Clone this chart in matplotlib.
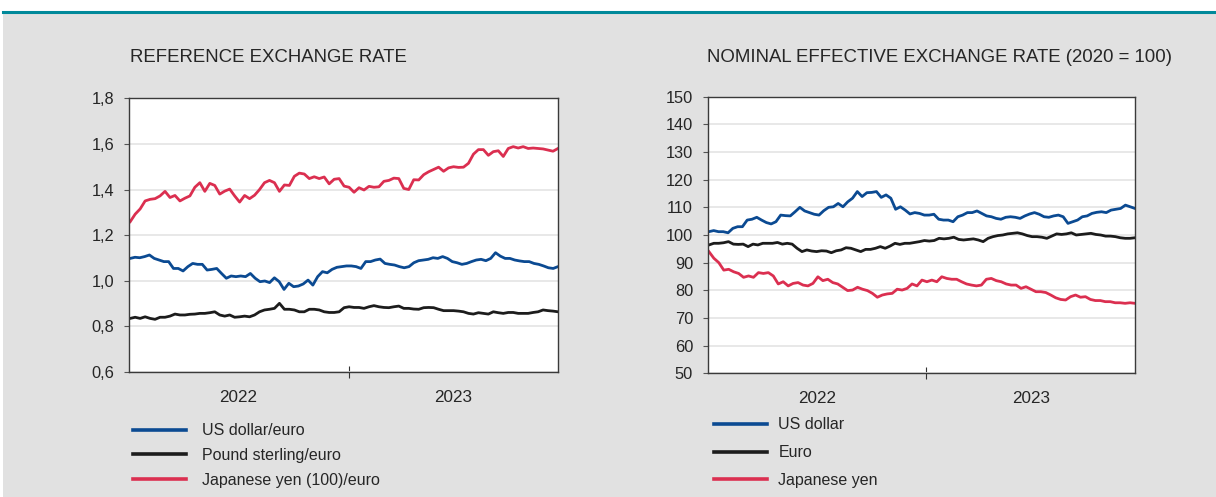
# exchange_rates.py
#
# Two panels: reference exchange rates against the euro and
# nominal effective exchange rates (2020 = 100), 2022-2023.

import numpy as np
import pandas as pd
import matplotlib
matplotlib.use("Agg")
import matplotlib.pyplot as plt
from matplotlib.lines import Line2D
from matplotlib.patches import Rectangle
from matplotlib.ticker import FuncFormatter

plt.rcParams['font.family'] = ['Liberation Sans', 'DejaVu Sans']

#--- DATA -----------------------------------------------------------------#
start_date = "2022-01-03"
end_date = "2023-12-15"

# Left panel: reference exchange rates
usd_per_eur = [1.098, 1.103, 1.101, 1.106, 1.113, 1.098, 1.091, 1.084, 1.084, 1.054,
               1.054, 1.043, 1.062, 1.076, 1.072, 1.072, 1.047, 1.050, 1.054, 1.032,
               1.011, 1.021, 1.018, 1.021, 1.018, 1.032, 1.011, 0.996, 0.999, 0.992,
               1.013, 0.996, 0.962, 0.989, 0.974, 0.977, 0.986, 1.003, 0.981, 1.018,
               1.040, 1.035, 1.050, 1.059, 1.062, 1.065, 1.065, 1.062, 1.054, 1.084,
               1.084, 1.091, 1.095, 1.076, 1.072, 1.069, 1.062, 1.057, 1.062, 1.079,
               1.088, 1.091, 1.094, 1.101, 1.098, 1.106, 1.098, 1.084, 1.079, 1.072,
               1.076, 1.084, 1.091, 1.094, 1.088, 1.098, 1.123, 1.108, 1.098, 1.098,
               1.091, 1.087, 1.084, 1.084, 1.076, 1.072, 1.065, 1.057, 1.054, 1.062]
gbp_per_eur = [0.835, 0.840, 0.835, 0.842, 0.835, 0.831, 0.840, 0.840, 0.845, 0.854,
               0.850, 0.850, 0.853, 0.854, 0.857, 0.857, 0.860, 0.864, 0.850, 0.845,
               0.850, 0.840, 0.842, 0.845, 0.842, 0.850, 0.864, 0.872, 0.875, 0.879,
               0.901, 0.875, 0.875, 0.872, 0.864, 0.864, 0.875, 0.875, 0.872, 0.864,
               0.861, 0.861, 0.864, 0.882, 0.886, 0.883, 0.883, 0.879, 0.886, 0.891,
               0.886, 0.883, 0.882, 0.886, 0.889, 0.879, 0.879, 0.876, 0.875, 0.882,
               0.883, 0.882, 0.875, 0.869, 0.869, 0.869, 0.867, 0.864, 0.857, 0.854,
               0.860, 0.857, 0.854, 0.864, 0.860, 0.857, 0.861, 0.861, 0.857, 0.857,
               0.857, 0.861, 0.864, 0.872, 0.869, 0.867, 0.864]
jpy100_per_eur = [1.259, 1.292, 1.315, 1.350, 1.357, 1.360, 1.372, 1.392, 1.365, 1.374,
                  1.350, 1.362, 1.372, 1.410, 1.430, 1.392, 1.427, 1.418, 1.380, 1.393,
                  1.402, 1.372, 1.345, 1.374, 1.360, 1.375, 1.400, 1.430, 1.440, 1.430,
                  1.392, 1.420, 1.418, 1.458, 1.472, 1.468, 1.448, 1.456, 1.448, 1.455,
                  1.425, 1.445, 1.448, 1.415, 1.410, 1.388, 1.408, 1.398, 1.414, 1.410,
                  1.412, 1.436, 1.440, 1.450, 1.448, 1.405, 1.400, 1.443, 1.442, 1.465,
                  1.478, 1.488, 1.498, 1.480, 1.495, 1.500, 1.497, 1.498, 1.515, 1.555,
                  1.575, 1.575, 1.550, 1.566, 1.570, 1.545, 1.580, 1.588, 1.582, 1.588,
                  1.580, 1.582, 1.580, 1.578, 1.573, 1.568, 1.580]

# Right panel: nominal effective exchange rates (2020 = 100)
neer_usd = [101.2, 101.6, 101.2, 101.2, 100.8, 102.4, 103.0, 103.0, 105.4, 105.7,
            106.4, 105.4, 104.5, 104.0, 104.8, 107.2, 107.0, 106.9, 108.4, 110.0,
            108.7, 108.1, 107.5, 107.2, 108.8, 110.0, 110.2, 111.4, 110.2, 112.0,
            113.3, 115.7, 113.9, 115.3, 115.4, 115.7, 113.6, 114.5, 113.3, 109.3,
            110.2, 109.0, 107.6, 108.1, 107.8, 107.2, 107.2, 107.5, 105.7, 105.4,
            105.4, 104.8, 106.6, 107.2, 108.1, 108.1, 108.7, 107.8, 106.9, 106.6,
            106.0, 105.7, 106.4, 106.6, 106.4, 106.0, 106.9, 107.6, 108.1, 107.5,
            106.6, 106.4, 106.9, 107.2, 106.6, 104.2, 104.8, 105.4, 106.6, 106.9,
            107.8, 108.2, 108.4, 108.1, 109.0, 109.3, 109.6, 110.8, 110.2, 109.6]
neer_eur = [96.4, 97.0, 97.0, 97.2, 97.6, 96.7, 96.6, 96.7, 95.8, 96.7,
            96.4, 97.0, 97.0, 97.0, 97.3, 96.7, 97.0, 96.7, 95.2, 94.0,
            94.6, 94.2, 94.0, 94.3, 94.2, 93.6, 94.3, 94.6, 95.4, 95.2,
            94.6, 94.0, 94.8, 94.8, 95.2, 95.8, 95.2, 96.0, 97.0, 96.6,
            97.0, 97.0, 97.3, 97.6, 98.0, 97.8, 98.0, 98.8, 98.6, 98.8,
            99.2, 98.4, 98.2, 98.4, 98.6, 98.2, 97.6, 98.8, 99.4, 99.8,
            100.0, 100.4, 100.6, 100.8, 100.4, 99.8, 99.4, 99.4, 99.2, 98.8,
            99.6, 100.4, 100.2, 100.4, 100.8, 100.0, 100.2, 100.4, 100.6, 100.2,
            100.0, 99.6, 99.6, 99.4, 99.0, 98.8, 98.8, 99.0]
neer_jpy = [94.0, 91.6, 90.0, 87.3, 87.6, 86.7, 86.1, 84.7, 85.2, 84.7,
            86.4, 86.1, 86.4, 85.2, 82.3, 83.1, 81.6, 82.5, 82.8, 81.9,
            81.6, 82.5, 84.9, 83.5, 84.0, 82.8, 82.3, 81.1, 79.9, 80.1,
            81.1, 80.4, 79.9, 78.9, 77.5, 78.3, 78.7, 78.9, 80.4, 80.1,
            80.7, 82.3, 81.6, 83.7, 83.1, 83.7, 83.1, 84.9, 84.3, 84.0,
            84.0, 83.1, 82.3, 81.9, 81.6, 81.9, 84.0, 84.3, 83.5, 83.1,
            82.3, 81.9, 81.9, 80.7, 81.3, 80.4, 79.5, 79.5, 79.2, 78.3,
            77.3, 76.7, 76.5, 77.7, 78.3, 77.5, 77.7, 76.7, 76.3, 76.3,
            75.9, 75.9, 75.5, 75.5, 75.3, 75.5, 75.3]

left_labels = ["US dollar/euro", "Pound sterling/euro", "Japanese yen (100)/euro"]
right_labels = ["US dollar", "Euro", "Japanese yen"]
year_labels = ["2022", "2023"]
#--- END DATA -------------------------------------------------------------#

blue = "#0b4a92"
black = "#1c1c1c"
red = "#db2f50"
text_col = "#262626"
grid_col = "#e6e6e6"
bg_col = "#e1e1e1"


def dates_for(values):
    # evenly spaced observation dates over the sample period
    return pd.date_range(start_date, end_date, periods=len(values))


def style_axis(ax, yticks, fmt):
    ax.set_facecolor("white")
    ax.set_xlim(pd.Timestamp("2022-01-01"), pd.Timestamp(end_date))
    ax.set_ylim(yticks[0], yticks[-1])
    ax.set_yticks(yticks)
    ax.yaxis.set_major_formatter(FuncFormatter(fmt))
    ax.grid(axis="y", color=grid_col, linewidth=1.3)
    ax.set_axisbelow(True)
    for s in ax.spines.values():
        s.set_color("#3a3a3a")
        s.set_linewidth(1.0)
    ax.tick_params(axis="y", direction="out", length=3.5, width=0.8, color="#555555",
                   pad=7, labelsize=11.8, labelcolor=text_col)
    # year separator tick, labels centered on each year
    ax.set_xticks([pd.Timestamp("2023-01-01")])
    ax.xaxis.set_major_formatter(FuncFormatter(lambda v, p: ""))
    ax.tick_params(axis="x", which="major", direction="inout", length=9, width=0.8,
                   color="#333333")
    ax.set_xticks([pd.Timestamp("2022-07-02"), pd.Timestamp("2023-06-24")], minor=True)
    ax.set_xticklabels(year_labels, minor=True)
    ax.tick_params(axis="x", which="minor", length=0, pad=13, labelsize=12.3,
                   labelcolor=text_col)


def style_legend(leg):
    for t in leg.get_texts():
        t.set_color(text_col)
    for h in leg.get_lines():
        h.set_linewidth(2.6)


fig = plt.figure(figsize=(12.16, 4.97), dpi=100, facecolor="white")

# grey panel and teal rule at the top
fig.add_artist(Rectangle((3 / 1216, 0), 1, 1 - 13 / 497, transform=fig.transFigure,
                         facecolor=bg_col, edgecolor="none", zorder=-10))
fig.add_artist(Line2D([3 / 1216, 1], [1 - 11.5 / 497] * 2, transform=fig.transFigure,
                      color="#00899a", linewidth=2.2))

# Left panel
ax1 = fig.add_axes([129 / 1216, 1 - 372 / 497, 429 / 1216, 273.7 / 497])
style_axis(ax1, np.arange(0.6, 1.81, 0.2),
           lambda v, p: "{0:.1f}".format(v).replace(".", ","))
ax1.plot(dates_for(usd_per_eur), usd_per_eur, color=blue, lw=2.0, label=left_labels[0])
ax1.plot(dates_for(gbp_per_eur), gbp_per_eur, color=black, lw=2.0, label=left_labels[1])
ax1.plot(dates_for(jpy100_per_eur), jpy100_per_eur, color=red, lw=2.0, label=left_labels[2])
fig.text(130 / 1216, 1 - 57 / 497, "REFERENCE EXCHANGE RATE", fontsize=13.4,
         color=text_col, va="center", ha="left")
leg1 = ax1.legend(loc="upper left", bbox_to_anchor=(119 / 1216, 1 - 409 / 497),
                  bbox_transform=fig.transFigure, frameon=False, fontsize=11.5,
                  handlelength=3.3, handletextpad=1.0, labelspacing=0.6)
style_legend(leg1)

# Right panel
ax2 = fig.add_axes([707.7 / 1216, 1 - 373.3 / 497, 427.3 / 1216, 276.6 / 497])
style_axis(ax2, np.arange(50, 151, 10), lambda v, p: "{0:.0f}".format(v))
ax2.plot(dates_for(neer_usd), neer_usd, color=blue, lw=2.0, label=right_labels[0])
ax2.plot(dates_for(neer_eur), neer_eur, color=black, lw=2.0, label=right_labels[1])
ax2.plot(dates_for(neer_jpy), neer_jpy, color=red, lw=2.0, label=right_labels[2])
fig.text(707 / 1216, 1 - 57 / 497, "NOMINAL EFFECTIVE EXCHANGE RATE (2020 = 100)",
         fontsize=13.4, color=text_col, va="center", ha="left")
leg2 = ax2.legend(loc="upper left", bbox_to_anchor=(700 / 1216, 1 - 403 / 497),
                  bbox_transform=fig.transFigure, frameon=False, fontsize=11.5,
                  handlelength=3.3, handletextpad=0.7, labelspacing=0.8)
style_legend(leg2)

fig.savefig("out.png", dpi=100, facecolor="white")
